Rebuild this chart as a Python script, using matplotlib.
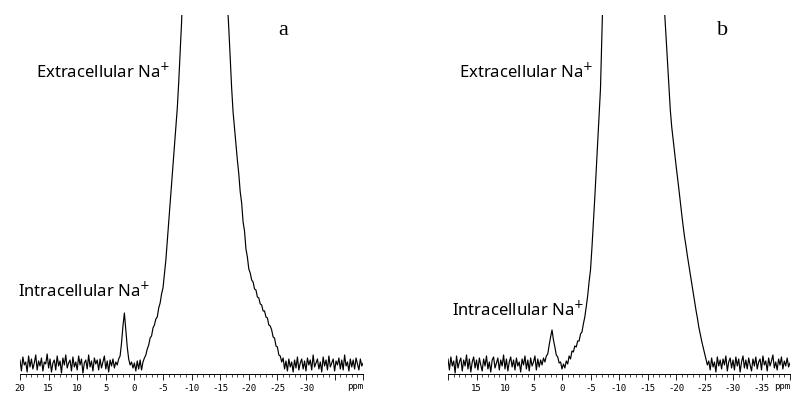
import numpy as np
import matplotlib.pyplot as plt
from matplotlib.ticker import MultipleLocator, FixedLocator, FixedFormatter

# spectrum sampled every 0.25 ppm from 20 to -40 ppm, 8 points (2 ppm) per row
PPM_START = 20.0
PPM_STEP = 0.25

spec_a = [
    14, 3, 17, 9, 12, 2, 18, 7,            # 20
    15, 5, 11, 19, 4, 13, 8, 16,           # 18
    3, 12, 10, 20, 6, 15, 2, 11,           # 16
    14, 4, 18, 8, 13, 1, 16, 9,            # 14
    19, 6, 11, 14, 3, 17, 7, 12,           # 12
    4, 18, 9, 15, 1, 11, 14, 5,            # 10
    19, 7, 13, 3, 16, 10, 14, 4,           # 8
    15, 6, 12, 18, 5, 13, 2, 14,           # 6
    8, 15, 6, 12, 9, 15, 18, 31,           # 4
    48, 61, 44, 27, 15, 9, 12, 6,          # 2
    11, 3, 13, 5, 14, 4, 12, 16,           # 0
    19, 25, 29, 36, 38, 46, 49, 55,        # -2
    57, 66, 71, 80, 86, 100, 114, 133,     # -4
    152, 171, 190, 209, 228, 247, 266, 292,  # -6
    322, 352, 395, 450, 520, 600, 690, 790,  # -8
    900, 1010, 1110, 1200, 1270, 1320, 1350, 1360,  # -10
    1360, 1350, 1320, 1280, 1220, 1150, 1070, 980,  # -12
    890, 790, 700, 620, 550, 490, 440, 420,  # -14
    390, 372, 346, 315, 286, 262, 246, 230,  # -16
    214, 200, 182, 171, 152, 143, 125, 117,  # -18
    105, 101, 94, 92, 85, 84, 77, 76,      # -20
    70, 69, 63, 63, 57, 56, 49, 48,        # -22
    44, 37, 36, 28, 27, 19, 18, 12,        # -24
    16, 5, 13, 3, 15, 7, 12, 2,            # -26
    14, 6, 17, 4, 11, 15, 5, 13,           # -28
    3, 16, 9, 14, 4, 19, 7, 11,            # -30
    15, 5, 12, 2, 17, 8, 14, 4,            # -32
    18, 7, 11, 15, 3, 13, 9, 16,           # -34
    5, 14, 4, 19, 8, 12, 3, 15,            # -36
    7, 14, 5, 16, 10, 4, 15, 8,            # -38
    11,                                    # -40
]

spec_b = [
    15, 4, 17, 8, 13, 1, 18, 6,            # 20
    12, 16, 3, 14, 8, 19, 5, 15,           # 18
    2, 12, 17, 6, 14, 4, 16, 9,            # 16
    3, 15, 8, 18, 5, 12, 2, 14,            # 14
    17, 6, 11, 16, 4, 14, 8, 19,           # 12
    5, 15, 3, 12, 17, 7, 14, 4,            # 10
    16, 8, 12, 2, 15, 9, 18, 5,            # 8
    14, 3, 16, 8, 12, 18, 4, 15,           # 6
    7, 14, 9, 16, 12, 18, 20, 29,          # 4
    37, 44, 34, 27, 19, 17, 11, 12,        # 2
    5, 10, 6, 13, 10, 18, 15, 23,          # 0
    22, 28, 27, 33, 33, 40, 42, 50,        # -2
    57, 67, 78, 92, 104, 126, 151, 176,    # -4
    203, 229, 255, 285, 337, 395, 460, 530,  # -6
    610, 690, 770, 850, 930, 1000, 1070, 1130,  # -8
    1190, 1240, 1280, 1320, 1350, 1375, 1395, 1410,  # -10
    1420, 1425, 1425, 1420, 1410, 1395, 1375, 1350,  # -12
    1320, 1280, 1240, 1190, 1130, 1070, 1000, 930,  # -14
    850, 770, 690, 610, 540, 480, 430, 390,  # -16
    362, 338, 313, 288, 264, 247, 234, 222,  # -18
    209, 197, 185, 172, 160, 148, 137, 128,  # -20
    118, 109, 100, 91, 82, 73, 64, 56,     # -22
    47, 40, 33, 27, 21, 15, 9, 13,         # -24
    4, 16, 7, 12, 2, 17, 8, 14,            # -26
    5, 15, 9, 18, 3, 12, 16, 6,            # -28
    14, 4, 17, 8, 15, 2, 12, 18,           # -30
    6, 14, 5, 16, 9, 3, 15, 8,             # -32
    17, 5, 12, 15, 4, 18, 9, 13,           # -34
    3, 16, 8, 13, 19, 6, 12, 4,            # -36
    15, 9, 17, 5, 13, 8, 16, 7,            # -38
    11,                                    # -40
]

labels_a = ['20', '15', '10', '5', '0', '-5', '-10', '-15', '-20', '-25', '-30', '', '']
labels_b = ['', '15', '10', '5', '0', '-5', '-10', '-15', '-20', '-25', '-30', '-35', '']
major_ticks = [20, 15, 10, 5, 0, -5, -10, -15, -20, -25, -30, -35, -40]

panels = [
    # spectrum, tick labels, panel letter
    (spec_a, labels_a, 'a'),
    (spec_b, labels_b, 'b'),
]

fig = plt.figure(figsize=(8, 4.03), dpi=100)
ax_a = fig.add_axes([0.025, 0.072, 0.429, 0.891])
ax_b = fig.add_axes([0.56, 0.072, 0.4275, 0.891])

for ax, (spec, labels, letter) in zip([ax_a, ax_b], panels):
    ppm = PPM_START - PPM_STEP * np.arange(len(spec))
    ax.plot(ppm, spec, color='black', lw=0.85)
    ax.set_xlim(20, -40)
    ax.set_ylim(0, 359)
    for s in ['top', 'left', 'right']:
        ax.spines[s].set_visible(False)
    ax.spines['bottom'].set_linewidth(0.7)
    ax.set_yticks([])
    ax.xaxis.set_major_locator(FixedLocator(major_ticks))
    ax.xaxis.set_major_formatter(FixedFormatter(labels))
    ax.xaxis.set_minor_locator(MultipleLocator(1))
    ax.tick_params(axis='x', which='major', length=4, width=0.6, pad=3,
                   labelsize=6.5, labelfontfamily='DejaVu Sans Mono')
    ax.tick_params(axis='x', which='minor', length=2.5, width=0.5)
    ax.text(-38.6, -0.036, 'ppm', transform=ax.get_xaxis_transform(),
            ha='center', va='center', fontsize=6.5, family='DejaVu Sans Mono')

lab = dict(fontsize=12, family='Noto Sans', ha='right', va='center')
ax_a.text(-6.2, 302, 'Extracellular Na$^{+}$', **lab)
ax_a.text(-2.7, 83, 'Intracellular Na$^{+}$', **lab)
ax_b.text(-5.5, 302, 'Extracellular Na$^{+}$', **lab)
ax_b.text(-3.9, 64, 'Intracellular Na$^{+}$', **lab)

ax_a.text(-26.0, 339, 'a', fontsize=16, family='Liberation Serif', ha='center', va='baseline')
ax_b.text(-28.1, 339, 'b', fontsize=16, family='Liberation Serif', ha='center', va='baseline')

fig.savefig('out.png', dpi=100)
